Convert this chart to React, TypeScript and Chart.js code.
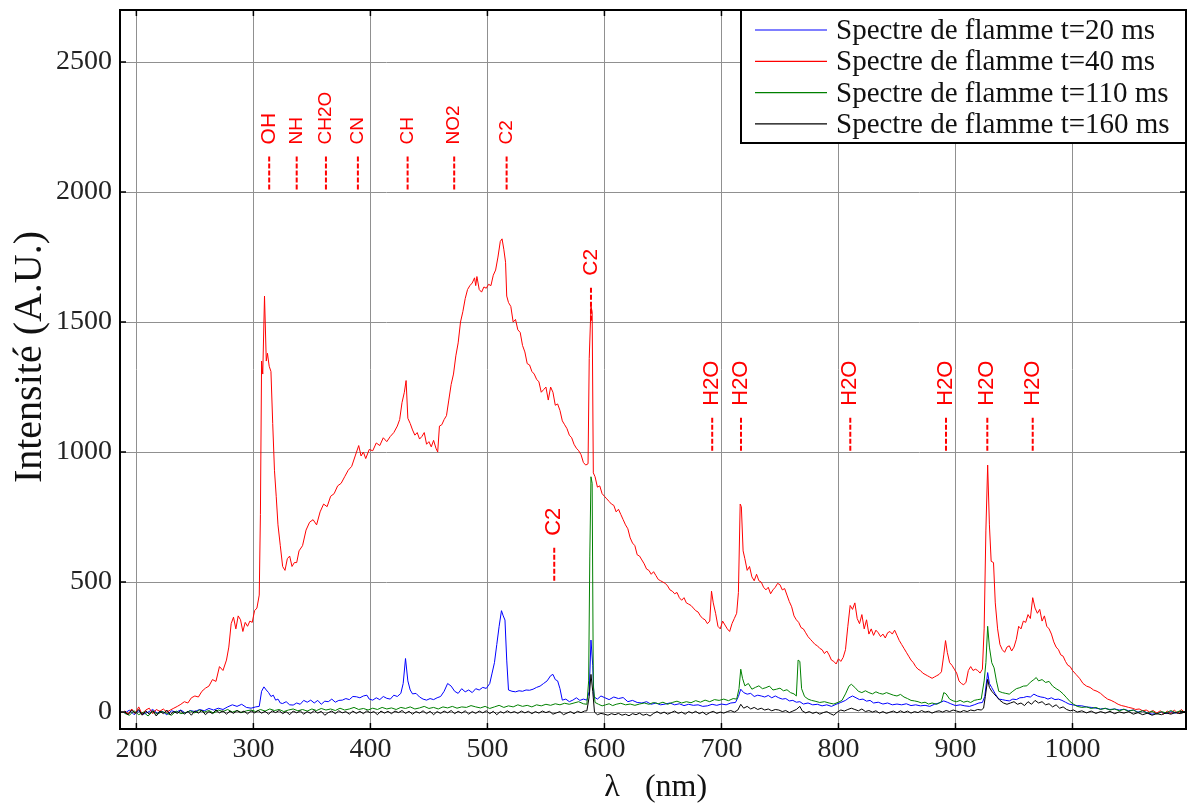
import React, { useEffect, useRef } from "react";
import { Chart, registerables } from "chart.js";

Chart.register(...registerables);

// ---- data (wavelength nm, intensity A.U.) ----
const seriesLabels = [
  "Spectre de flamme t=20 ms",
  "Spectre de flamme t=40 ms",
  "Spectre de flamme t=110 ms",
  "Spectre de flamme t=160 ms",
];
const seriesColors = ["#0000ff", "#ff0000", "#008000", "#000000"];

const xTicks = [200, 300, 400, 500, 600, 700, 800, 900, 1000];
const yTicks = [0, 500, 1000, 1500, 2000, 2500];

const red40: [number, number][] = [
  [190, 5], [193, -8], [196, 12], [199, -5], [202, 20], [205, -10], [208, 8], [211, 15], [214, -6], [217, 10],
  [220, 3], [223, 12], [226, 0], [229, 8], [232, 15], [235, 22], [238, 30], [241, 40], [244, 35], [247, 55],
  [250, 62], [253, 58], [256, 80], [259, 92], [262, 100], [265, 125], [268, 118], [271, 175], [274, 160], [277, 200],
  [279, 250], [281, 340], [283, 365], [285, 320], [287, 370], [289, 355], [291, 310], [293, 345], [295, 330], [297, 350],
  [299, 345], [301, 390], [303, 400], [305, 450], [306, 760], [307, 1350], [308, 1300], [309.5, 1600], [311, 1350], [312, 1380],
  [313.5, 1330], [315, 1310], [316.5, 1110], [318, 930], [319.5, 830], [321, 720], [323, 640], [325, 560], [327, 545], [329, 590],
  [331, 600], [333, 560], [335, 575], [337, 575], [339, 620], [342, 640], [345, 700], [348, 730], [351, 740], [354, 720],
  [357, 770], [360, 800], [363, 790], [366, 830], [369, 840], [372, 870], [375, 880], [378, 905], [381, 930], [384, 945],
  [387, 985], [390, 1025], [392, 985], [394, 1000], [396, 975], [399, 1010], [402, 1005], [405, 1035], [408, 1025], [411, 1055],
  [414, 1040], [417, 1060], [420, 1075], [423, 1100], [425, 1125], [427, 1190], [429, 1230], [430.5, 1275], [432, 1130], [434, 1110],
  [436, 1085], [438, 1065], [440, 1075], [442, 1050], [444, 1060], [446, 1075], [448, 1030], [450, 1040], [452, 1020], [454, 1045],
  [456, 1015], [457.5, 1000], [459, 1100], [461, 1105], [463, 1125], [465, 1140], [467, 1200], [469, 1260], [471, 1300], [473, 1370],
  [475, 1420], [477, 1500], [479, 1540], [481, 1590], [483, 1625], [485, 1640], [487, 1650], [489, 1670], [490, 1640], [491, 1675],
  [493, 1625], [495, 1615], [497, 1635], [499, 1630], [501, 1645], [503, 1640], [505, 1680], [507, 1700], [509, 1750], [511, 1810],
  [512.5, 1820], [514, 1780], [515.5, 1730], [516.5, 1600], [518, 1575], [520, 1560], [522, 1500], [524, 1510], [526, 1470], [528, 1460],
  [530, 1410], [532, 1385], [534, 1340], [536, 1335], [538, 1310], [540, 1300], [542, 1280], [544, 1270], [546, 1230], [548, 1240],
  [550, 1250], [552, 1200], [554, 1250], [556, 1230], [558, 1180], [560, 1185], [562, 1160], [564, 1120], [566, 1105], [568, 1090],
  [570, 1065], [572, 1055], [574, 1030], [576, 1015], [578, 1005], [580, 990], [582, 960], [584, 950], [586, 955], [587, 1360],
  [588.5, 1560], [589.5, 1540], [590.5, 920], [592, 905], [594, 865], [596, 870], [598, 840], [600, 830], [602, 820], [604, 810],
  [606, 800], [608, 795], [610, 770], [612, 780], [614, 760], [616, 740], [618, 720], [620, 705], [622, 670], [624, 650],
  [626, 640], [628, 605], [630, 600], [632, 585], [634, 570], [636, 550], [638, 545], [640, 530], [642, 540], [644, 525],
  [646, 510], [648, 505], [650, 500], [652, 495], [654, 485], [656, 470], [658, 465], [660, 455], [662, 460], [664, 440],
  [666, 430], [668, 440], [670, 420], [672, 415], [674, 410], [676, 400], [678, 390], [680, 385], [682, 370], [684, 360],
  [686, 355], [688, 340], [690, 350], [691.5, 465], [693, 420], [695, 380], [697, 330], [699, 320], [701, 350], [703, 335],
  [705, 320], [707, 310], [709, 340], [711, 360], [713, 380], [714.5, 460], [716, 800], [717, 790], [718.5, 620], [720, 590],
  [722, 545], [724, 560], [726, 520], [728, 505], [730, 530], [732, 505], [734, 500], [736, 480], [738, 470], [740, 480],
  [742, 455], [744, 470], [746, 480], [748, 495], [750, 490], [752, 470], [754, 475], [756, 450], [758, 425], [760, 405],
  [762, 370], [764, 355], [766, 345], [768, 325], [770, 320], [772, 305], [774, 290], [776, 280], [778, 270], [780, 260],
  [782, 255], [784, 245], [786, 240], [788, 225], [790, 235], [792, 220], [794, 200], [796, 195], [798, 185], [800, 205],
  [802, 195], [804, 210], [806, 240], [808, 330], [810, 410], [812, 395], [814, 420], [816, 360], [818, 340], [820, 375],
  [822, 320], [824, 355], [826, 300], [828, 320], [830, 295], [832, 315], [834, 305], [836, 290], [838, 300], [840, 285],
  [842, 305], [844, 310], [846, 300], [848, 315], [850, 295], [852, 275], [854, 260], [856, 245], [858, 230], [860, 215],
  [862, 200], [864, 190], [866, 175], [868, 165], [870, 160], [872, 150], [874, 145], [876, 140], [878, 135], [880, 130],
  [882, 135], [884, 140], [886, 145], [888, 155], [890, 220], [891.5, 275], [893, 230], [895, 190], [897, 180], [899, 165],
  [901, 150], [903, 120], [905, 110], [907, 105], [909, 115], [911, 160], [913, 175], [915, 160], [917, 165], [919, 160],
  [921, 150], [923, 165], [924.5, 320], [926, 700], [927.5, 950], [929, 720], [930.5, 580], [932.5, 575], [934, 420], [936, 320],
  [938, 260], [940, 240], [942, 230], [944, 250], [946, 255], [948, 235], [950, 250], [952, 280], [954, 330], [956, 320],
  [958, 350], [960, 345], [962, 375], [964, 360], [966, 440], [968, 400], [970, 380], [972, 395], [974, 350], [976, 370],
  [978, 330], [980, 320], [982, 300], [984, 270], [986, 250], [988, 240], [990, 220], [992, 215], [994, 195], [996, 180],
  [998, 175], [1000, 160], [1003, 145], [1006, 130], [1009, 110], [1012, 100], [1015, 95], [1018, 85], [1021, 80], [1024, 72],
  [1027, 60], [1030, 50], [1033, 45], [1036, 38], [1039, 30], [1042, 25], [1045, 22], [1048, 18], [1051, 15], [1054, 10],
  [1057, 12], [1060, 5], [1063, 8], [1066, 0], [1069, 6], [1072, -4], [1075, 5], [1078, -8], [1081, 4], [1084, -6],
  [1087, 8], [1090, -5], [1093, 10], [1096, -2], [1099, 6], [1100, 3],
];

const blue20: [number, number][] = [
  [190, -5], [194, 8], [198, -10], [202, 5], [206, -8], [210, 0], [214, 10], [218, -5], [222, 3], [226, -10],
  [230, 5], [234, 0], [238, 8], [242, -4], [246, 6], [250, 2], [254, 10], [258, 5], [262, 14], [266, 8],
  [270, 15], [274, 10], [278, 20], [282, 28], [286, 22], [290, 30], [294, 18], [298, 15], [302, 20], [305, 22],
  [307, 80], [309, 97], [311, 85], [313, 75], [315, 60], [317, 65], [319, 46], [321, 50], [323, 35], [325, 33],
  [328, 40], [331, 28], [334, 27], [337, 35], [340, 30], [343, 45], [346, 38], [349, 46], [352, 35], [355, 45],
  [358, 30], [361, 42], [364, 40], [367, 50], [370, 38], [373, 45], [376, 46], [379, 52], [382, 48], [385, 60],
  [388, 59], [391, 55], [394, 62], [397, 65], [399, 50], [402, 46], [405, 55], [408, 48], [411, 60], [414, 53],
  [417, 50], [420, 65], [423, 60], [426, 72], [428, 110], [430, 206], [432, 120], [434, 85], [436, 70], [439, 72],
  [442, 58], [445, 50], [448, 46], [451, 52], [454, 48], [457, 55], [460, 60], [463, 80], [466, 110], [469, 100],
  [472, 80], [475, 72], [478, 90], [481, 78], [484, 85], [487, 75], [490, 90], [493, 85], [496, 95], [499, 91],
  [502, 110], [504, 150], [506, 190], [508, 260], [510, 330], [512, 390], [513.5, 370], [515, 354], [516.5, 200], [518, 85],
  [521, 80], [524, 78], [527, 82], [530, 80], [533, 85], [536, 84], [539, 88], [542, 95], [545, 100], [548, 110],
  [551, 120], [554, 140], [556, 145], [558, 125], [560, 120], [562, 90], [564, 46], [567, 50], [570, 40], [573, 46],
  [576, 55], [579, 45], [582, 50], [585, 46], [587, 80], [588.5, 277], [590, 180], [591, 59], [594, 50], [597, 62],
  [600, 56], [604, 48], [608, 58], [612, 52], [616, 56], [620, 40], [624, 45], [628, 37], [632, 35], [636, 40],
  [640, 30], [644, 35], [648, 28], [652, 31], [656, 35], [660, 28], [664, 32], [668, 25], [672, 30], [676, 26],
  [680, 28], [684, 22], [688, 24], [692, 30], [696, 26], [700, 31], [704, 28], [708, 35], [712, 37], [714.5, 60],
  [716.5, 88], [719, 75], [722, 69], [725, 72], [728, 60], [731, 65], [734, 62], [737, 58], [740, 64], [743, 55],
  [746, 62], [749, 55], [752, 50], [755, 52], [758, 43], [761, 45], [764, 38], [767, 40], [770, 31], [774, 35],
  [778, 28], [782, 30], [786, 24], [790, 28], [794, 22], [798, 30], [802, 37], [806, 45], [809, 55], [812, 62],
  [815, 55], [818, 48], [821, 50], [824, 42], [827, 45], [830, 35], [834, 38], [838, 31], [842, 35], [846, 28],
  [850, 31], [854, 28], [858, 32], [862, 25], [866, 28], [870, 24], [874, 26], [878, 22], [882, 30], [886, 35],
  [890, 43], [893, 38], [896, 32], [900, 25], [904, 28], [908, 24], [912, 22], [916, 28], [920, 35], [923, 37],
  [925, 60], [927.5, 152], [929, 110], [931, 94], [934, 70], [937, 50], [940, 48], [943, 45], [946, 43], [949, 50],
  [952, 48], [955, 55], [958, 56], [961, 60], [964, 58], [967, 69], [970, 62], [973, 58], [976, 56], [979, 50],
  [982, 55], [985, 48], [988, 50], [991, 45], [994, 38], [997, 31], [1000, 28], [1004, 25], [1008, 24], [1012, 20],
  [1016, 18], [1020, 15], [1024, 12], [1028, 14], [1032, 10], [1036, 12], [1040, 8], [1044, 11], [1048, 5], [1052, 8],
  [1056, 0], [1060, 5], [1064, -3], [1068, -8], [1072, -5], [1076, 0], [1080, -6], [1084, 2], [1088, -4], [1092, 3],
  [1096, -1], [1100, 2],
];

const green110: [number, number][] = [
  [190, -5], [194, -12], [198, 5], [202, -10], [206, 0], [210, -15], [214, 3], [218, -8], [222, 2], [226, -5],
  [230, -12], [234, 4], [238, -6], [242, -2], [246, 5], [250, -3], [254, 8], [258, 0], [262, 6], [266, -4],
  [270, 8], [274, 2], [278, 10], [282, 0], [286, 6], [290, -2], [294, 5], [298, 8], [302, 2], [306, 10],
  [310, 4], [314, 12], [318, 6], [322, 10], [326, 2], [330, 8], [334, 12], [338, 5], [342, 10], [346, 4],
  [350, 12], [354, 6], [358, 14], [362, 8], [366, 12], [370, 6], [374, 15], [378, 8], [382, 12], [386, 18],
  [390, 10], [394, 14], [398, 8], [402, 15], [406, 10], [410, 18], [414, 12], [418, 16], [422, 10], [426, 18],
  [430, 14], [434, 20], [438, 12], [442, 16], [446, 22], [450, 14], [454, 18], [458, 12], [462, 20], [466, 16],
  [470, 22], [474, 15], [478, 20], [482, 18], [486, 25], [490, 20], [494, 16], [498, 22], [502, 14], [506, 20],
  [510, 26], [514, 18], [518, 24], [522, 20], [526, 28], [530, 22], [534, 26], [538, 20], [542, 28], [546, 24],
  [550, 30], [554, 26], [558, 32], [562, 28], [566, 34], [570, 30], [574, 35], [578, 40], [582, 32], [585, 30],
  [586.5, 120], [587.5, 600], [588.5, 905], [589.5, 880], [590.5, 100], [592, 37], [595, 30], [598, 24], [601, 28], [604, 32],
  [607, 25], [610, 30], [614, 34], [618, 28], [622, 31], [626, 26], [630, 31], [634, 35], [638, 30], [642, 37],
  [646, 32], [650, 38], [654, 30], [658, 37], [662, 42], [666, 35], [670, 40], [674, 36], [678, 44], [682, 38],
  [686, 46], [690, 40], [694, 48], [698, 45], [702, 50], [706, 44], [710, 52], [713, 50], [715, 90], [716.5, 165],
  [718, 130], [720, 101], [723, 110], [726, 88], [729, 95], [732, 101], [735, 90], [738, 94], [741, 100], [744, 85],
  [747, 88], [750, 92], [753, 82], [756, 86], [759, 75], [762, 70], [764, 62], [765.5, 200], [767, 195], [768.5, 90],
  [771, 60], [774, 50], [777, 45], [780, 42], [784, 37], [788, 40], [792, 35], [796, 31], [800, 38], [803, 45],
  [806, 70], [809, 100], [811, 107], [814, 95], [817, 80], [820, 75], [823, 82], [826, 75], [829, 70], [832, 78],
  [835, 72], [838, 69], [841, 75], [844, 70], [847, 65], [850, 62], [853, 68], [856, 58], [859, 52], [862, 45],
  [865, 43], [868, 40], [871, 35], [874, 38], [877, 31], [880, 35], [884, 30], [888, 40], [890, 75], [892, 70],
  [895, 50], [898, 43], [901, 40], [904, 45], [907, 38], [910, 42], [913, 37], [916, 45], [919, 48], [922, 50],
  [924.5, 120], [926, 190], [927.5, 330], [929, 250], [931, 190], [933, 170], [935, 120], [937, 80], [940, 75], [943, 72],
  [946, 69], [949, 80], [952, 90], [955, 94], [958, 100], [961, 101], [964, 115], [967, 125], [969, 133], [971, 120],
  [974, 125], [977, 114], [980, 118], [983, 100], [986, 90], [989, 82], [992, 70], [995, 55], [998, 40], [1001, 30],
  [1004, 22], [1008, 18], [1012, 20], [1016, 14], [1020, 18], [1024, 10], [1028, 15], [1032, 8], [1036, 12], [1040, 5],
  [1044, 11], [1048, 3], [1052, 8], [1056, -2], [1060, 6], [1064, -5], [1068, 4], [1072, -8], [1076, 2], [1080, -3],
  [1084, 6], [1088, -2], [1092, 5], [1096, 0], [1100, 4],
];

const black160: [number, number][] = [
  [190, 0], [193, -10], [196, 8], [199, -5], [202, 10], [205, -12], [208, 5], [211, -8], [214, 6], [217, -15],
  [220, 4], [223, -6], [226, 8], [229, -10], [232, 2], [235, -5], [238, 6], [241, -8], [244, 3], [247, -12],
  [250, 5], [253, -4], [256, 7], [259, -10], [262, 2], [265, -6], [268, 8], [271, -3], [274, 5], [277, -8],
  [280, 4], [283, -5], [286, 6], [289, -2], [292, 4], [295, -7], [298, 5], [301, -3], [304, 6], [307, -4],
  [310, 3], [313, -8], [316, 5], [319, -2], [322, 6], [325, -6], [328, 2], [331, -10], [334, 4], [337, -3],
  [340, 5], [343, -8], [346, 2], [349, -5], [352, 6], [355, -4], [358, 3], [361, -12], [364, -2], [367, 4],
  [370, -6], [373, 5], [376, -3], [379, 2], [382, -8], [385, 4], [388, -5], [391, 3], [394, -6], [397, 5],
  [400, -3], [403, 2], [406, -10], [409, 4], [412, -4], [415, 3], [418, -6], [421, 4], [424, -2], [427, 6],
  [430, -5], [433, 3], [436, -8], [439, 2], [442, -4], [445, 5], [448, -6], [451, 3], [454, -10], [457, 2],
  [460, -5], [463, 4], [466, -3], [469, 6], [472, -6], [475, 3], [478, -4], [481, 5], [484, -8], [487, 2],
  [490, -5], [493, 4], [496, -3], [499, 5], [502, -6], [505, 3], [508, -10], [511, 2], [514, -4], [517, 5],
  [520, -3], [523, 2], [526, -5], [529, 4], [532, -3], [535, 3], [538, -6], [541, 2], [544, -4], [547, 4],
  [550, -2], [553, 3], [556, -8], [559, -3], [562, 2], [565, -10], [568, -4], [571, 2], [574, -6], [577, 3],
  [580, -2], [583, 4], [585, 5], [587, 60], [588.5, 145], [590, 80], [591.5, 0], [594, -10], [597, -5], [600, -8],
  [603, -12], [606, -6], [609, -10], [612, -5], [615, -12], [618, -8], [621, -14], [624, -6], [627, -10], [630, -4],
  [633, -12], [636, -8], [639, -15], [642, -5], [645, 2], [648, -6], [651, 0], [654, -8], [657, -2], [660, 4],
  [663, -5], [666, 0], [669, -8], [672, 2], [675, -4], [678, 3], [681, -6], [684, 0], [687, -10], [690, -2],
  [693, 3], [696, -5], [699, 0], [702, -4], [705, 2], [708, 6], [711, 0], [714, 8], [716.5, 30], [719, 15],
  [722, 22], [725, 12], [728, 18], [731, 10], [734, 15], [737, 8], [740, 12], [743, 5], [746, 10], [749, 8],
  [752, 2], [755, 6], [758, -2], [761, 4], [764, 10], [767, 22], [769, 5], [772, -3], [775, 2], [778, -5],
  [781, 0], [784, -8], [787, -2], [790, 2], [793, -6], [796, -12], [799, 0], [802, 8], [805, 4], [808, 10],
  [811, 15], [814, 10], [817, 5], [820, 12], [823, 2], [826, 6], [829, 0], [832, 5], [835, -4], [838, 2],
  [841, -5], [844, 0], [847, 4], [850, -3], [853, 5], [856, -2], [859, 4], [862, -4], [865, 2], [868, -2],
  [871, 6], [874, 0], [877, 3], [880, -4], [883, 2], [886, 5], [889, 0], [892, 6], [895, 2], [898, 8],
  [901, 4], [904, 0], [907, 6], [910, 2], [913, 8], [916, 5], [919, 10], [922, 8], [924, 15], [925.5, 60],
  [927.5, 126], [929, 95], [931, 80], [933, 70], [935, 60], [938, 45], [941, 35], [944, 30], [947, 35], [950, 40],
  [953, 30], [956, 35], [959, 25], [962, 40], [965, 30], [968, 45], [971, 35], [974, 40], [977, 28], [980, 32],
  [983, 20], [986, 28], [989, 15], [992, 20], [995, 10], [998, 5], [1001, 8], [1004, 0], [1008, 5], [1012, -3],
  [1016, 4], [1020, -5], [1024, 2], [1028, -4], [1032, 3], [1036, -6], [1040, 1], [1044, -4], [1048, 2], [1052, -8],
  [1056, -2], [1060, -10], [1064, -4], [1068, -12], [1072, -6], [1076, -10], [1080, -3], [1084, -8], [1088, -2], [1092, -6],
  [1096, 0], [1100, -4],
];

// annotations: label, wavelength (nm), base intensity, font size
const annoLabels = ["OH", "NH", "CH2O", "CN", "CH", "NO2", "C2", "C2", "C2", "H2O", "H2O", "H2O", "H2O", "H2O", "H2O"];
const annoNm = [313.5, 337, 362, 389.3, 431.8, 471.6, 516.4, 588.5, 557.1, 692.1, 716.7, 810.1, 891.9, 927.2, 966];
const annoBase = [2010, 2010, 2010, 2010, 2010, 2010, 2010, 1505, 505, 1005, 1005, 1005, 1005, 1005, 1005];
const annoSize = [21, 19, 19, 19, 19, 19, 19, 21, 22, 22, 22, 22, 22, 22, 22];

const SERIF = "'Liberation Serif', 'DejaVu Serif', serif";
const SANS = "'Liberation Sans', Arial, sans-serif";

const overlayPlugin = {
  id: "overlay",
  afterDraw(chart: any) {
    const { ctx, chartArea: a, scales } = chart;
    const xs = scales.x;
    const ys = scales.y;
    ctx.save();

    // inward tick marks
    ctx.strokeStyle = "#000";
    ctx.lineWidth = 1.5;
    ctx.beginPath();
    for (const v of xTicks) {
      const px = xs.getPixelForValue(v);
      ctx.moveTo(px, a.bottom);
      ctx.lineTo(px, a.bottom - 6);
      ctx.moveTo(px, a.top);
      ctx.lineTo(px, a.top + 6);
    }
    for (const v of yTicks) {
      const py = ys.getPixelForValue(v);
      ctx.moveTo(a.left, py);
      ctx.lineTo(a.left + 6, py);
      ctx.moveTo(a.right, py);
      ctx.lineTo(a.right - 6, py);
    }
    ctx.stroke();

    // annotations
    ctx.fillStyle = "#ff0000";
    ctx.strokeStyle = "#ff0000";
    for (let i = 0; i < annoLabels.length; i++) {
      const px = xs.getPixelForValue(annoNm[i]);
      const pb = ys.getPixelForValue(annoBase[i]);
      ctx.lineWidth = 2;
      ctx.setLineDash([5, 2]);
      ctx.beginPath();
      ctx.moveTo(px, pb);
      ctx.lineTo(px, pb - 35);
      ctx.stroke();
      ctx.setLineDash([]);
      ctx.save();
      ctx.translate(px, pb - 45);
      ctx.rotate(-Math.PI / 2);
      ctx.font = `${annoSize[i]}px ${SANS}`;
      ctx.textAlign = "left";
      ctx.textBaseline = "middle";
      ctx.fillText(annoLabels[i], 0, 0);
      ctx.restore();
    }

    // legend
    const lx = a.right - 445;
    const ly = a.top;
    ctx.fillStyle = "#fff";
    ctx.fillRect(lx, ly, 445, 133);
    ctx.strokeStyle = "#000";
    ctx.lineWidth = 2;
    ctx.strokeRect(lx, ly, 445, 133);
    ctx.font = `29px ${SERIF}`;
    ctx.textAlign = "left";
    ctx.textBaseline = "middle";
    for (let i = 0; i < seriesLabels.length; i++) {
      const ry = ly + 20 + i * 31.3;
      ctx.strokeStyle = seriesColors[i];
      ctx.lineWidth = 1.2;
      ctx.beginPath();
      ctx.moveTo(lx + 14, ry);
      ctx.lineTo(lx + 86, ry);
      ctx.stroke();
      ctx.fillStyle = "#111";
      ctx.fillText(seriesLabels[i], lx + 95, ry + 1.5);
    }

    // frame
    ctx.strokeStyle = "#000";
    ctx.lineWidth = 2;
    ctx.strokeRect(a.left, a.top, a.right - a.left, a.bottom - a.top);

    // axis titles
    ctx.fillStyle = "#111";
    ctx.textBaseline = "middle";
    ctx.textAlign = "center";
    ctx.font = `32px ${SERIF}`;
    ctx.fillText("λ", 612, 788);
    ctx.fillText("(nm)", 676, 788);
    ctx.save();
    ctx.translate(30, 357);
    ctx.rotate(-Math.PI / 2);
    ctx.font = `40px ${SERIF}`;
    ctx.fillText("Intensité (A.U.)", 0, 0);
    ctx.restore();

    ctx.restore();
  },
};

function toPoints(arr: [number, number][]) {
  return arr.map(([x, y]) => ({ x, y }));
}

function zeroPadding(s: any) {
  s.paddingTop = 0;
  s.paddingBottom = 0;
  s.paddingLeft = 0;
  s.paddingRight = 0;
}

export default function App() {
  const canvasRef = useRef<HTMLCanvasElement | null>(null);

  useEffect(() => {
    const canvas = canvasRef.current;
    if (!canvas) return;
    const seriesData = [blue20, red40, green110, black160];
    const chart = new Chart(canvas, {
      type: "line",
      data: {
        datasets: seriesData.map((d, i) => ({
          label: seriesLabels[i],
          data: toPoints(d),
          borderColor: seriesColors[i],
          backgroundColor: seriesColors[i],
          borderWidth: 1,
          pointRadius: 0,
          tension: 0,
          fill: false,
          order: 4 - i,
        })),
      },
      options: {
        animation: false,
        responsive: false,
        devicePixelRatio: 1,
        events: [],
        layout: { padding: { top: 10, right: 1, left: 0, bottom: 0 } },
        plugins: { legend: { display: false }, tooltip: { enabled: false }, title: { display: false } },
        scales: {
          x: {
            type: "linear",
            min: 186,
            max: 1097,
            afterBuildTicks: (s: any) => {
              s.ticks = xTicks.map((v) => ({ value: v }));
            },
            afterFit: (s: any) => {
              s.height = 75;
              zeroPadding(s);
            },
            grid: { color: "#909090", lineWidth: 1, drawTicks: false },
            border: { display: false },
            ticks: {
              font: { family: SERIF, size: 28 },
              color: "#222",
              padding: 4,
              maxRotation: 0,
              autoSkip: false,
              callback: (v: any) => String(v),
            },
          },
          y: {
            type: "linear",
            min: -65,
            max: 2700,
            afterBuildTicks: (s: any) => {
              s.ticks = yTicks.map((v) => ({ value: v }));
            },
            afterFit: (s: any) => {
              s.width = 120;
              zeroPadding(s);
            },
            grid: { color: "#909090", lineWidth: 1, drawTicks: false },
            border: { display: false },
            ticks: {
              font: { family: SERIF, size: 28 },
              color: "#222",
              padding: 8,
              autoSkip: false,
              callback: (v: any) => String(v),
            },
          },
        },
      },
      plugins: [overlayPlugin],
    } as any);
    return () => chart.destroy();
  }, []);

  return (
    <div style={{ position: "fixed", left: 0, top: 0, width: 1187, height: 804, background: "#fff" }}>
      <canvas ref={canvasRef} width={1187} height={804} style={{ display: "block" }} />
    </div>
  );
}
